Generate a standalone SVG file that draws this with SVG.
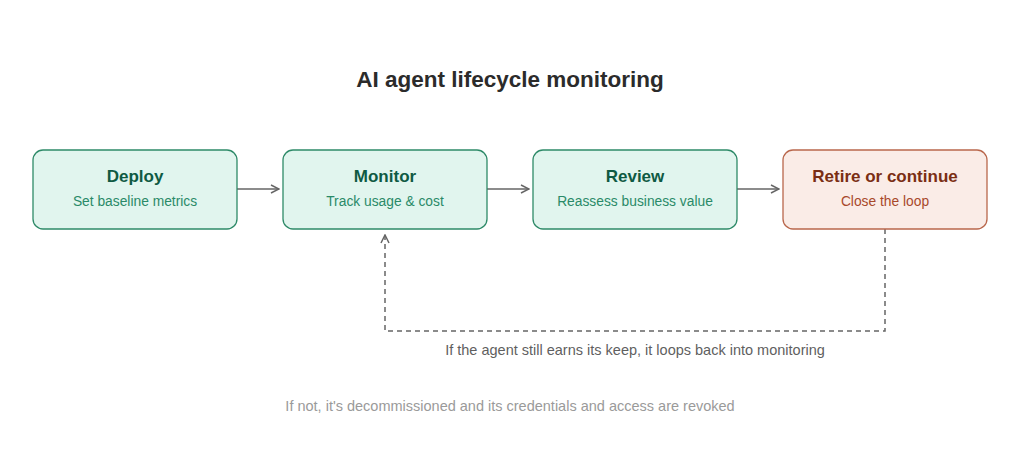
<svg xmlns="http://www.w3.org/2000/svg" width="1024" height="450" viewBox="0 0 1024 450">
<style>
text{font-family:"Liberation Sans",Arial,sans-serif;text-anchor:middle}
.title{font-size:22.5px;font-weight:bold;fill:#2b2b2b}
.g rect{fill:#e1f5ee;stroke:#2e8a68;stroke-width:1.3}
.g .h{font-size:17px;font-weight:bold;fill:#0f5a43}
.g .s{font-size:13.8px;fill:#2a8a68}
.o rect{fill:#faece7;stroke:#b9674c;stroke-width:1.3}
.o .h{font-size:17px;font-weight:bold;fill:#7a2e14}
.o .s{font-size:13.8px;fill:#a8482a}
.conn{fill:none;stroke:#666;stroke-width:1.5}
.dash{stroke-dasharray:5 4}
.note{font-size:14.5px;fill:#5f5f5f}
.note2{font-size:14.5px;fill:#9a9a9a}
</style>
<defs>
<marker id="ah" viewBox="0 0 10 10" refX="9" refY="5" markerWidth="10" markerHeight="10" markerUnits="userSpaceOnUse" orient="auto">
<path d="M1 1 L9 5 L1 9" fill="none" stroke="#666" stroke-width="1.5"/>
</marker>
</defs>
<rect width="1024" height="450" fill="#fff"/>
<text class="title" x="510" y="87">AI agent lifecycle monitoring</text>
<g id="connectors">
<line class="conn" x1="237" y1="189" x2="279" y2="189" marker-end="url(#ah)"/>
<line class="conn" x1="487" y1="189" x2="529" y2="189" marker-end="url(#ah)"/>
<line class="conn" x1="737" y1="189" x2="779" y2="189" marker-end="url(#ah)"/>
<path class="conn dash" d="M885 229 V331 H385 V235" marker-end="url(#ah)"/>
</g>
<g id="deploy" class="g"><rect x="33" y="150" width="204" height="79" rx="10"/><text class="h" x="135" y="182">Deploy</text><text class="s" x="135" y="206">Set baseline metrics</text></g>
<g id="monitor" class="g"><rect x="283" y="150" width="204" height="79" rx="10"/><text class="h" x="385" y="182">Monitor</text><text class="s" x="385" y="206">Track usage &amp; cost</text></g>
<g id="review" class="g"><rect x="533" y="150" width="204" height="79" rx="10"/><text class="h" x="635" y="182">Review</text><text class="s" x="635" y="206">Reassess business value</text></g>
<g id="retire" class="o"><rect x="783" y="150" width="204" height="79" rx="10"/><text class="h" x="885" y="182">Retire or continue</text><text class="s" x="885" y="206">Close the loop</text></g>
<text class="note" x="635" y="355">If the agent still earns its keep, it loops back into monitoring</text>
<text class="note2" x="510" y="411">If not, it's decommissioned and its credentials and access are revoked</text>
</svg>
